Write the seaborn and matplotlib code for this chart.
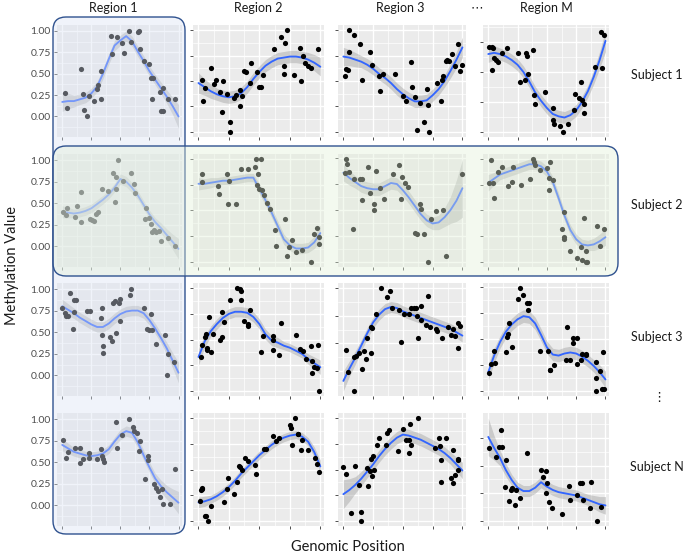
import numpy as np
import matplotlib
matplotlib.use("Agg")
import matplotlib.pyplot as plt
import seaborn as sns
from matplotlib.patches import FancyBboxPatch
from matplotlib.ticker import MultipleLocator, FormatStrFormatter
from matplotlib.colors import to_rgba

regions = ["Region 1", "Region 2", "Region 3", "Region M"]
subjects = ["Subject 1", "Subject 2", "Subject 3", "Subject N"]

# x positions of the smooth fit (shared by all panels)
fit_x = [0.00, 0.05, 0.10, 0.15, 0.20, 0.25, 0.30, 0.35, 0.40, 0.45, 0.50,
         0.55, 0.60, 0.65, 0.70, 0.75, 0.80, 0.85, 0.90, 0.95, 1.00]

# ---- Subject 1 ----
s1_r1_x = [0.02,0.04,0.16,0.19,0.21,0.18,0.23,0.27,0.30,0.31,0.33,0.33,0.42,0.47,0.43,0.51,0.57,0.53,0.59,0.65,0.66,0.67,0.70,0.75,0.76,0.78,0.77,0.84,0.87,0.85,0.87,0.91,0.97]
s1_r1_y = [0.27,0.10,0.55,0.08,0.01,0.26,0.24,0.18,0.32,0.37,0.53,0.20,0.94,0.93,0.73,0.86,1.00,0.74,0.87,0.99,1.00,0.79,0.65,0.61,0.45,0.45,0.20,0.29,0.33,0.06,0.06,0.20,0.20]
s1_r1_fit = [0.17,0.18,0.18,0.20,0.22,0.27,0.35,0.50,0.67,0.83,0.89,0.94,0.88,0.76,0.65,0.53,0.43,0.33,0.23,0.12,0.00]
s1_r1_band = [0.11,0.09,0.07,0.06,0.06,0.06,0.06,0.06,0.06,0.06,0.06,0.06,0.06,0.06,0.06,0.06,0.06,0.07,0.08,0.10,0.14]

s1_r2_x = [0.03,0.04,0.05,0.10,0.13,0.14,0.19,0.20,0.18,0.23,0.26,0.26,0.29,0.31,0.34,0.34,0.36,0.37,0.39,0.42,0.43,0.48,0.50,0.51,0.53,0.62,0.68,0.71,0.73,0.70,0.70,0.78,0.84,0.83,0.86,0.87,0.90,0.92,0.98]
s1_r2_y = [0.51,0.30,0.43,0.63,0.47,0.51,0.20,0.50,0.39,0.37,0.10,0.00,0.33,0.36,0.25,0.41,0.35,0.60,0.59,0.48,0.68,0.59,0.44,0.44,0.56,0.81,0.93,0.87,1.00,0.65,0.57,0.56,0.50,0.82,0.75,0.68,0.65,0.63,0.81]
s1_r2_fit = [0.48,0.44,0.40,0.37,0.35,0.34,0.35,0.38,0.44,0.52,0.59,0.65,0.69,0.72,0.73,0.74,0.74,0.73,0.71,0.68,0.64]
s1_r2_band = [0.10,0.08,0.07,0.06,0.06,0.06,0.06,0.06,0.06,0.06,0.06,0.06,0.06,0.06,0.06,0.06,0.06,0.06,0.07,0.08,0.09]

s1_r3_x = [0.01,0.02,0.04,0.05,0.05,0.09,0.14,0.16,0.22,0.24,0.30,0.31,0.33,0.43,0.50,0.53,0.57,0.58,0.60,0.62,0.64,0.68,0.70,0.71,0.72,0.79,0.82,0.83,0.84,0.86,0.87,0.89,0.91,0.94,0.96,0.98,1.00]
s1_r3_y = [0.55,0.62,0.61,1.00,0.78,0.95,0.86,0.51,0.78,0.66,0.55,0.40,0.57,0.57,0.35,0.30,0.69,0.44,0.34,0.02,0.28,0.10,0.42,0.26,0.00,0.48,0.30,0.51,0.55,0.70,0.71,0.70,0.77,0.65,0.86,0.60,0.66]
s1_r3_fit = [0.74,0.73,0.71,0.69,0.66,0.62,0.57,0.53,0.48,0.42,0.37,0.33,0.30,0.30,0.31,0.36,0.42,0.50,0.60,0.71,0.83]
s1_r3_band = [0.09,0.08,0.07,0.06,0.06,0.06,0.06,0.06,0.06,0.06,0.06,0.06,0.06,0.06,0.06,0.06,0.06,0.06,0.07,0.08,0.10]

s1_rm_x = [0.01,0.03,0.04,0.03,0.05,0.07,0.08,0.12,0.16,0.25,0.27,0.31,0.32,0.33,0.34,0.38,0.39,0.40,0.48,0.55,0.55,0.56,0.61,0.64,0.68,0.73,0.74,0.77,0.79,0.80,0.82,0.82,0.91,0.97,0.96,0.99]
s1_rm_y = [0.71,0.71,0.70,0.52,0.62,0.60,0.58,0.66,0.70,0.66,0.42,0.43,0.66,0.63,0.48,0.68,0.31,0.23,0.33,0.20,0.10,0.07,0.05,0.00,0.07,0.18,0.32,0.28,0.42,0.27,0.23,0.16,0.54,0.53,0.83,0.81]
s1_rm_fit = [0.65,0.66,0.65,0.63,0.60,0.56,0.50,0.42,0.33,0.26,0.20,0.15,0.13,0.12,0.14,0.18,0.25,0.34,0.46,0.60,0.76]
s1_rm_band = [0.07,0.06,0.05,0.05,0.05,0.05,0.05,0.05,0.05,0.05,0.05,0.05,0.05,0.05,0.05,0.05,0.05,0.05,0.06,0.07,0.09]

# ---- Subject 2 ----
s2_r1_x = [0.01,0.03,0.04,0.11,0.13,0.16,0.16,0.24,0.26,0.27,0.29,0.31,0.34,0.39,0.44,0.45,0.46,0.48,0.46,0.52,0.59,0.62,0.63,0.72,0.71,0.75,0.76,0.77,0.79,0.81,0.83,0.85,0.91,0.97]
s2_r1_y = [0.40,0.36,0.44,0.34,0.47,0.63,0.28,0.32,0.31,0.29,0.38,0.40,0.66,0.64,0.85,0.51,0.66,1.00,0.80,0.76,0.85,0.72,0.62,0.44,0.32,0.33,0.26,0.16,0.19,0.17,0.18,0.06,0.10,0.00]
s2_r1_fit = [0.40,0.39,0.38,0.39,0.41,0.44,0.49,0.54,0.60,0.68,0.78,0.75,0.68,0.59,0.48,0.37,0.28,0.21,0.13,0.05,-0.03]
s2_r1_band = [0.07,0.06,0.05,0.05,0.05,0.05,0.05,0.05,0.05,0.05,0.06,0.06,0.06,0.05,0.05,0.05,0.05,0.06,0.07,0.09,0.12]

s2_r2_x = [0.03,0.03,0.16,0.23,0.25,0.17,0.24,0.31,0.35,0.41,0.46,0.51,0.47,0.49,0.48,0.50,0.52,0.54,0.56,0.59,0.63,0.64,0.71,0.73,0.74,0.77,0.80,0.85,0.92,0.95,0.97,0.99,0.99]
s2_r2_y = [0.86,0.78,0.74,0.86,0.79,0.66,0.56,0.56,0.90,0.90,0.92,1.00,1.00,0.86,0.75,0.71,0.70,0.65,0.57,0.51,0.31,0.15,0.42,0.06,0.14,0.21,0.10,0.12,0.00,0.27,0.33,0.24,0.17]
s2_r2_fit = [0.76,0.76,0.77,0.78,0.79,0.79,0.80,0.81,0.82,0.82,0.71,0.60,0.48,0.35,0.22,0.16,0.13,0.13,0.14,0.19,0.28]
s2_r2_band = [0.06,0.05,0.05,0.04,0.04,0.04,0.04,0.04,0.04,0.04,0.05,0.05,0.05,0.05,0.05,0.05,0.05,0.05,0.05,0.06,0.08]

s2_r3_x = [0.02,0.03,0.01,0.05,0.09,0.08,0.14,0.16,0.16,0.21,0.22,0.26,0.26,0.27,0.31,0.34,0.42,0.47,0.48,0.49,0.52,0.54,0.60,0.62,0.64,0.65,0.68,0.71,0.74,0.78,0.84,0.86,1.00]
s2_r3_y = [0.99,0.94,0.86,0.87,0.80,0.32,0.80,0.80,0.60,0.91,0.66,0.56,0.50,0.88,0.71,0.61,0.85,0.93,0.61,0.82,0.76,0.72,0.28,0.27,0.56,0.51,0.27,0.00,0.41,0.49,0.50,0.06,0.85]
s2_r3_fit = [0.86,0.81,0.77,0.73,0.71,0.70,0.70,0.73,0.76,0.75,0.69,0.62,0.54,0.46,0.40,0.37,0.38,0.43,0.50,0.59,0.71]
s2_r3_band = [0.08,0.07,0.06,0.06,0.06,0.06,0.06,0.06,0.06,0.06,0.06,0.06,0.06,0.06,0.06,0.06,0.07,0.09,0.13,0.20,0.28]

s2_rm_x = [0.02,0.01,0.04,0.05,0.08,0.12,0.17,0.20,0.21,0.28,0.36,0.38,0.39,0.40,0.44,0.50,0.53,0.52,0.55,0.52,0.65,0.63,0.65,0.65,0.70,0.76,0.80,0.83,0.84,0.82,0.79,0.83,0.93,0.95,0.99]
s2_rm_y = [0.99,0.77,0.77,0.62,0.87,0.92,0.74,0.78,0.92,0.75,0.81,1.00,0.97,0.94,0.89,0.91,0.97,0.82,0.80,0.70,0.49,0.32,0.24,0.22,0.11,0.04,0.02,0.00,0.00,0.43,0.14,0.11,0.35,0.15,0.32]
s2_rm_fit = [0.77,0.81,0.85,0.87,0.89,0.91,0.93,0.95,0.95,0.93,0.88,0.78,0.62,0.45,0.31,0.22,0.17,0.16,0.17,0.20,0.24]
s2_rm_band = [0.08,0.06,0.05,0.05,0.05,0.05,0.05,0.05,0.05,0.05,0.05,0.05,0.05,0.05,0.05,0.05,0.05,0.05,0.06,0.07,0.08]

# ---- Subject 3 ----
s3_r1_x = [0.00,0.02,0.03,0.05,0.07,0.09,0.10,0.12,0.10,0.21,0.24,0.33,0.34,0.34,0.35,0.35,0.41,0.43,0.44,0.45,0.46,0.50,0.49,0.50,0.58,0.59,0.70,0.73,0.75,0.76,0.77,0.81,0.88,0.90,0.91,0.96]
s3_r1_y = [0.78,0.72,0.69,0.69,0.95,0.54,0.87,0.87,0.73,0.74,0.74,0.67,0.78,0.47,0.34,0.26,0.44,0.40,0.84,0.86,0.49,0.89,0.84,0.63,0.93,1.00,0.78,0.54,0.52,0.71,0.52,0.36,0.47,0.00,0.25,0.15]
s3_r1_fit = [0.80,0.76,0.72,0.67,0.63,0.59,0.56,0.56,0.60,0.66,0.71,0.74,0.75,0.75,0.72,0.64,0.54,0.43,0.31,0.17,0.03]
s3_r1_band = [0.08,0.07,0.06,0.06,0.06,0.06,0.06,0.06,0.06,0.06,0.06,0.06,0.06,0.06,0.06,0.06,0.06,0.06,0.07,0.09,0.12]

s3_r2_x = [0.02,0.03,0.05,0.06,0.07,0.07,0.10,0.09,0.12,0.18,0.19,0.21,0.19,0.26,0.32,0.34,0.35,0.35,0.37,0.41,0.42,0.41,0.51,0.53,0.61,0.61,0.61,0.66,0.68,0.80,0.83,0.86,0.88,0.92,0.93,0.95,0.97,0.93,0.98,0.99]
s3_r2_y = [0.33,0.45,0.52,0.55,0.40,0.42,0.38,0.72,0.55,0.50,0.52,0.67,0.77,0.88,1.00,0.99,0.97,0.88,0.68,0.63,0.79,0.65,0.38,0.53,0.53,0.50,0.40,0.35,0.66,0.54,0.41,0.39,0.31,0.44,0.29,0.23,0.22,0.17,0.45,0.00]
s3_r2_fit = [0.33,0.48,0.58,0.65,0.71,0.75,0.77,0.77,0.76,0.72,0.65,0.55,0.49,0.47,0.44,0.42,0.39,0.36,0.31,0.27,0.23]
s3_r2_band = [0.08,0.06,0.05,0.05,0.05,0.05,0.05,0.05,0.05,0.05,0.05,0.05,0.05,0.05,0.04,0.04,0.04,0.04,0.05,0.06,0.07]

s3_r3_x = [0.02,0.04,0.09,0.09,0.11,0.13,0.16,0.17,0.19,0.20,0.23,0.23,0.24,0.27,0.32,0.37,0.39,0.41,0.47,0.48,0.51,0.55,0.57,0.59,0.61,0.62,0.63,0.65,0.65,0.69,0.71,0.73,0.78,0.79,0.83,0.88,0.90,0.92,0.94,0.96,0.98,0.96]
s3_r3_y = [0.44,0.24,0.07,0.38,0.39,0.41,0.27,0.43,0.36,0.55,0.41,0.65,0.64,0.77,1.00,0.92,0.97,0.82,0.80,0.51,0.77,0.77,0.82,0.82,0.82,0.75,0.55,0.84,0.71,0.67,0.93,0.65,0.63,0.61,0.55,0.65,0.58,0.63,0.57,0.68,0.66,0.46]
s3_r3_fit = [0.16,0.27,0.37,0.48,0.59,0.69,0.76,0.81,0.83,0.82,0.79,0.77,0.75,0.73,0.71,0.69,0.67,0.65,0.63,0.60,0.57]
s3_r3_band = [0.09,0.07,0.06,0.05,0.05,0.05,0.05,0.05,0.05,0.05,0.05,0.05,0.05,0.05,0.05,0.05,0.05,0.05,0.05,0.05,0.06]

s3_rm_x = [0.01,0.02,0.06,0.05,0.15,0.16,0.17,0.18,0.20,0.25,0.27,0.30,0.33,0.35,0.34,0.44,0.51,0.53,0.53,0.56,0.67,0.66,0.70,0.72,0.72,0.76,0.76,0.79,0.80,0.83,0.83,0.92,0.95,0.98,0.92,0.92,0.97,0.99]
s3_rm_y = [0.17,0.26,0.27,0.38,0.37,0.52,0.55,0.65,0.42,0.89,0.99,0.92,0.85,0.85,0.78,0.38,0.38,0.20,0.20,0.25,0.62,0.30,0.30,0.46,0.51,0.51,0.26,0.30,0.36,0.35,0.36,0.28,0.19,0.37,0.12,0.00,0.02,0.02]
s3_rm_fit = [0.18,0.34,0.47,0.57,0.64,0.69,0.72,0.71,0.65,0.54,0.42,0.35,0.34,0.36,0.37,0.36,0.33,0.29,0.24,0.18,0.11]
s3_rm_band = [0.08,0.07,0.06,0.06,0.06,0.06,0.06,0.06,0.06,0.06,0.06,0.06,0.06,0.06,0.06,0.06,0.06,0.06,0.06,0.07,0.08]

# ---- Subject N ----
sn_r1_x = [0.01,0.03,0.05,0.11,0.15,0.15,0.18,0.23,0.23,0.30,0.33,0.34,0.35,0.36,0.46,0.47,0.51,0.57,0.61,0.62,0.64,0.66,0.67,0.71,0.74,0.74,0.79,0.81,0.82,0.84,0.86,0.87,0.93,0.97]
sn_r1_y = [0.76,0.55,0.62,0.67,0.49,0.66,0.54,0.61,0.55,0.54,0.65,0.57,0.54,0.50,0.96,0.66,0.81,1.00,0.91,0.86,0.84,0.63,0.75,0.31,0.57,0.53,0.25,0.20,0.16,0.10,0.19,0.01,0.01,0.42]
sn_r1_fit = [0.70,0.66,0.62,0.60,0.58,0.57,0.58,0.60,0.65,0.74,0.82,0.86,0.84,0.73,0.58,0.44,0.31,0.22,0.15,0.09,0.03]
sn_r1_band = [0.07,0.06,0.05,0.05,0.05,0.05,0.05,0.05,0.05,0.05,0.06,0.06,0.06,0.06,0.06,0.06,0.06,0.07,0.08,0.10,0.13]

sn_r2_x = [0.01,0.02,0.03,0.03,0.05,0.06,0.08,0.10,0.21,0.24,0.23,0.29,0.32,0.33,0.34,0.36,0.38,0.41,0.46,0.47,0.54,0.55,0.61,0.64,0.66,0.75,0.76,0.77,0.79,0.82,0.82,0.84,0.85,0.90,0.96,0.97,0.99]
sn_r2_y = [0.19,0.30,0.31,0.32,0.05,0.05,0.00,0.14,0.18,0.42,0.31,0.26,0.38,0.53,0.52,0.50,0.61,0.58,0.54,0.46,0.70,0.70,0.83,0.78,0.81,0.93,0.90,0.74,1.00,0.85,0.85,0.69,0.79,0.69,0.61,0.55,0.48]
sn_r2_fit = [0.18,0.19,0.21,0.24,0.28,0.33,0.39,0.46,0.52,0.58,0.64,0.69,0.74,0.78,0.81,0.83,0.84,0.82,0.77,0.67,0.53]
sn_r2_band = [0.05,0.05,0.04,0.04,0.04,0.04,0.04,0.04,0.04,0.04,0.04,0.04,0.04,0.04,0.04,0.04,0.04,0.04,0.04,0.05,0.06]

sn_r3_x = [0.00,0.02,0.06,0.10,0.13,0.15,0.15,0.20,0.21,0.22,0.23,0.24,0.25,0.26,0.28,0.30,0.36,0.37,0.38,0.46,0.50,0.53,0.55,0.55,0.57,0.56,0.63,0.77,0.80,0.81,0.82,0.82,0.86,0.92,0.90,0.92,0.94,0.96,0.96,0.96]
sn_r3_y = [0.52,0.46,0.08,0.53,0.35,0.09,0.00,0.51,0.34,0.49,0.60,0.44,0.63,0.50,0.74,0.81,0.74,0.86,0.88,0.68,0.89,0.79,0.66,0.79,0.74,0.94,1.00,0.71,0.81,0.73,0.38,0.59,0.81,0.69,0.42,0.37,0.45,0.59,0.60,0.50]
sn_r3_fit = [0.26,0.30,0.35,0.41,0.48,0.55,0.63,0.70,0.76,0.81,0.84,0.83,0.81,0.79,0.76,0.73,0.70,0.66,0.61,0.55,0.49]
sn_r3_band = [0.14,0.11,0.08,0.07,0.06,0.06,0.06,0.06,0.06,0.06,0.06,0.06,0.06,0.06,0.06,0.06,0.06,0.06,0.06,0.07,0.08]

sn_rm_x = [0.01,0.07,0.09,0.11,0.12,0.14,0.15,0.18,0.19,0.20,0.23,0.24,0.27,0.33,0.45,0.49,0.47,0.50,0.49,0.52,0.54,0.63,0.69,0.70,0.76,0.78,0.80,0.81,0.88,0.87,0.93,0.96]
sn_rm_y = [0.66,0.58,0.67,0.82,0.67,0.31,0.55,0.18,0.28,0.30,0.14,0.28,0.21,0.61,0.46,0.45,0.40,0.34,0.25,0.17,0.12,0.06,0.32,0.19,0.23,0.34,0.34,0.19,0.35,0.12,0.00,0.13]
sn_rm_fit = [0.76,0.66,0.57,0.46,0.37,0.30,0.27,0.27,0.30,0.35,0.31,0.28,0.26,0.25,0.24,0.23,0.21,0.19,0.17,0.15,0.14]
sn_rm_band = [0.17,0.11,0.07,0.06,0.05,0.05,0.05,0.05,0.05,0.05,0.05,0.05,0.05,0.05,0.05,0.05,0.05,0.05,0.06,0.07,0.08]

panels = [
    [(s1_r1_x, s1_r1_y, s1_r1_fit, s1_r1_band), (s1_r2_x, s1_r2_y, s1_r2_fit, s1_r2_band),
     (s1_r3_x, s1_r3_y, s1_r3_fit, s1_r3_band), (s1_rm_x, s1_rm_y, s1_rm_fit, s1_rm_band)],
    [(s2_r1_x, s2_r1_y, s2_r1_fit, s2_r1_band), (s2_r2_x, s2_r2_y, s2_r2_fit, s2_r2_band),
     (s2_r3_x, s2_r3_y, s2_r3_fit, s2_r3_band), (s2_rm_x, s2_rm_y, s2_rm_fit, s2_rm_band)],
    [(s3_r1_x, s3_r1_y, s3_r1_fit, s3_r1_band), (s3_r2_x, s3_r2_y, s3_r2_fit, s3_r2_band),
     (s3_r3_x, s3_r3_y, s3_r3_fit, s3_r3_band), (s3_rm_x, s3_rm_y, s3_rm_fit, s3_rm_band)],
    [(sn_r1_x, sn_r1_y, sn_r1_fit, sn_r1_band), (sn_r2_x, sn_r2_y, sn_r2_fit, sn_r2_band),
     (sn_r3_x, sn_r3_y, sn_r3_fit, sn_r3_band), (sn_rm_x, sn_rm_y, sn_rm_fit, sn_rm_band)],
]

sns.set_style("darkgrid", {"axes.facecolor": "#EBEBEB", "grid.color": "white"})
plt.rcParams["font.family"] = ["Lato", "DejaVu Sans"]

W, H = 685, 553
fig = plt.figure(figsize=(W / 100, H / 100), dpi=100)
fig.patch.set_facecolor("white")

# panel layout in pixels
col_left = [57, 193, 338, 483]
col_right = [182, 324, 466, 609]
row_top = [25, 154, 283, 413]
row_bottom = [137, 267, 396, 526]

for i in range(4):
    for j in range(4):
        px, py, fit, band = panels[i][j]
        ax = fig.add_axes([col_left[j] / W, 1 - row_bottom[i] / H,
                           (col_right[j] - col_left[j]) / W,
                           (row_bottom[i] - row_top[i]) / H])
        fit = np.array(fit)
        band = np.array(band)
        ax.fill_between(fit_x, fit - band, fit + band, color="#999999",
                        alpha=0.4, linewidth=0, zorder=2)
        sns.lineplot(x=fit_x, y=fit, ax=ax, color="#3366FF", linewidth=1.35, zorder=3)
        sns.scatterplot(x=px, y=py, ax=ax, color="black", s=14, linewidth=0, zorder=4)

        ax.set_xlim(-0.045, 1.03)
        if j == 0:
            ax.set_ylim(-0.24, 1.07)
        else:
            ax.margins(y=0.05)
        ax.xaxis.set_major_locator(MultipleLocator(0.25))
        ax.xaxis.set_minor_locator(MultipleLocator(0.125))
        ax.yaxis.set_major_locator(MultipleLocator(0.25))
        ax.yaxis.set_minor_locator(MultipleLocator(0.125))
        ax.yaxis.set_major_formatter(FormatStrFormatter("%.2f"))
        ax.set_axisbelow(True)
        ax.grid(which="major", color="white", linewidth=1.0)
        ax.grid(which="minor", color="white", linewidth=0.5)
        for s in ax.spines.values():
            s.set_visible(False)
        ax.tick_params(which="major", length=2.5, width=0.6, color="#333333",
                       labelsize=7.5, labelcolor="#4D4D4D", pad=2,
                       bottom=True, left=True, labelbottom=False, labelleft=(j == 0))
        ax.tick_params(which="minor", length=0)
        ax.set_xlabel("")
        ax.set_ylabel("")

# highlight boxes (drawn in inches)
blue_box = FancyBboxPatch((0.53, 0.19), 1.32, 5.17,
                          boxstyle="round,pad=0,rounding_size=0.13",
                          transform=fig.dpi_scale_trans,
                          facecolor=to_rgba("#DAE3F3", 0.4),
                          edgecolor="#2F528F", linewidth=1.0, zorder=5)
green_box = FancyBboxPatch((0.53, 2.77), 5.65, 1.30,
                           boxstyle="round,pad=0,rounding_size=0.13",
                           transform=fig.dpi_scale_trans,
                           facecolor=to_rgba("#E2F0D9", 0.4),
                           edgecolor="#2F528F", linewidth=1.0, zorder=6)
fig.add_artist(blue_box)
fig.add_artist(green_box)

# column and row headers
col_cx = [113, 258, 400, 546]
for name, cx in zip(regions, col_cx):
    fig.text(cx / W, 1 - 8 / H, name, ha="center", va="center", fontsize=9, color="#1a1a1a")
fig.text(477 / W, 1 - 7 / H, "\u22ef", ha="center", va="center", fontsize=9, color="#1a1a1a")

row_cy = [75, 205, 337, 467]
for name, cy in zip(subjects, row_cy):
    fig.text(657 / W, 1 - cy / H, name, ha="center", va="center", fontsize=9, color="#1a1a1a")
fig.text(659 / W, 1 - 397 / H, "\u22ee", ha="center", va="center", fontsize=9.5, color="#1a1a1a")

fig.text(12 / W, 1 - 265 / H, "Methylation Value", rotation=90, ha="center", va="center",
         fontsize=10.5, color="#1a1a1a")
fig.text(348 / W, 1 - 547 / H, "Genomic Position", ha="center", va="center",
         fontsize=10.5, color="#1a1a1a")

fig.savefig("out.png", dpi=100)
